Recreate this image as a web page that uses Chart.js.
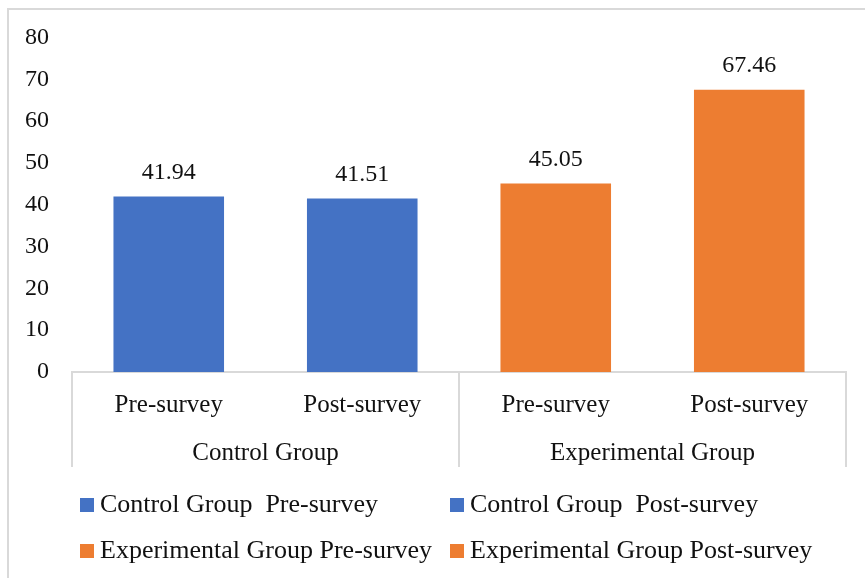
<!DOCTYPE html>
<html lang="en">
<head>
  <meta charset="UTF-8">
  <title>Survey scores</title>
  <script src="https://cdn.jsdelivr.net/npm/chart.js"></script>
  <style>
    body {
      margin: 0;
      background: #fff;
    }

    #wrap {
      position: relative;
      width: 865px;
      height: 578px;
      overflow: hidden;
    }

    #frame {
      position: absolute;
      left: 7px;
      top: 8px;
      width: 900px;
      height: 620px;
      border-top: 2px solid #d9d9d9;
      border-left: 2px solid #d9d9d9;
    }

    canvas {
      position: absolute;
      left: 0;
      top: 0;
    }
  </style>
</head>
<body>
  <div id="wrap">
    <div id="frame"></div>
    <canvas id="surveyChart" width="865" height="578"></canvas>
  </div>

  <script>
    const phases = ['Pre-survey', 'Post-survey', 'Pre-survey', 'Post-survey'];
    const groups = ['Control Group', 'Experimental Group'];
    const scores = [41.94, 41.51, 45.05, 67.46];
    const legendLabels = [
      'Control Group  Pre-survey',
      'Control Group  Post-survey',
      'Experimental Group Pre-survey',
      'Experimental Group Post-survey'
    ];
    const yTicks = [0, 10, 20, 30, 40, 50, 60, 70, 80];

    const blue = '#4472C4';
    const orange = '#ED7D31';
    const barColors = [blue, blue, orange, orange];
    const textColor = '#111';
    const lineColor = '#d9d9d9';
    const serif = "'Liberation Serif', 'DejaVu Serif', serif";

    // value labels above each bar
    const valueLabels = {
      id: 'valueLabels',
      afterDatasetsDraw(chart) {
        const ctx = chart.ctx;
        const meta = chart.getDatasetMeta(0);
        ctx.save();
        ctx.font = '24px ' + serif;
        ctx.fillStyle = textColor;
        ctx.textAlign = 'center';
        ctx.textBaseline = 'middle';
        meta.data.forEach((bar, i) => {
          ctx.fillText(scores[i].toFixed(2), bar.x, bar.y - 24);
        });
        ctx.restore();
      }
    };

    // group separators of the two-level category axis
    const groupLines = {
      id: 'groupLines',
      afterDraw(chart) {
        const x = chart.scales.x;
        const x2 = chart.scales.x2;
        const ctx = chart.ctx;
        const mid = (x.getPixelForValue(1) + x.getPixelForValue(2)) / 2;
        ctx.save();
        ctx.strokeStyle = lineColor;
        ctx.lineWidth = 2;
        [x.left, mid, x.right].forEach(px => {
          ctx.beginPath();
          ctx.moveTo(px, x.top);
          ctx.lineTo(px, x2.bottom - 1);
          ctx.stroke();
        });
        ctx.restore();
      }
    };

    // legend in two columns like the original
    const gridLegend = {
      id: 'gridLegend',
      afterDraw(chart) {
        const ctx = chart.ctx;
        const top = chart.scales.x2.bottom;
        ctx.save();
        ctx.font = '26px ' + serif;
        ctx.textBaseline = 'middle';
        legendLabels.forEach((label, i) => {
          const col = i % 2;
          const row = Math.floor(i / 2);
          const bx = col === 0 ? 80 : 450;
          const cy = top + 37 + row * 46;
          ctx.fillStyle = barColors[i];
          ctx.fillRect(bx, cy - 7, 14, 14);
          ctx.fillStyle = textColor;
          ctx.fillText(label, bx + 20, cy);
        });
        ctx.restore();
      }
    };

    new Chart(document.getElementById('surveyChart'), {
      type: 'bar',
      data: {
        labels: phases,
        datasets: [{
          data: scores,
          backgroundColor: barColors,
          borderWidth: 0,
          categoryPercentage: 1,
          barPercentage: 1 / 1.75
        }]
      },
      options: {
        responsive: false,
        animation: false,
        layout: {
          padding: { top: 37, right: 19, bottom: 110, left: 0 }
        },
        plugins: {
          legend: { display: false },
          tooltip: { enabled: false }
        },
        scales: {
          y: {
            min: 0,
            max: 80,
            afterBuildTicks: s => { s.ticks = yTicks.map(v => ({ value: v })); },
            afterFit: s => { s.width = 72; },
            grid: { display: false, drawTicks: false },
            border: { display: false },
            ticks: {
              padding: 23,
              color: textColor,
              font: { family: serif, size: 24 }
            }
          },
          x: {
            grid: { display: false, drawTicks: false },
            border: { display: true, color: lineColor, width: 2 },
            ticks: {
              padding: 18,
              color: textColor,
              font: { family: serif, size: 25 },
              maxRotation: 0
            }
          },
          x2: {
            type: 'category',
            labels: groups,
            position: 'bottom',
            offset: true,
            grid: { display: false, drawTicks: false },
            border: { display: false },
            ticks: {
              padding: 0,
              color: textColor,
              font: { family: serif, size: 25 },
              maxRotation: 0
            }
          }
        }
      },
      plugins: [valueLabels, groupLines, gridLegend]
    });
  </script>
</body>
</html>
